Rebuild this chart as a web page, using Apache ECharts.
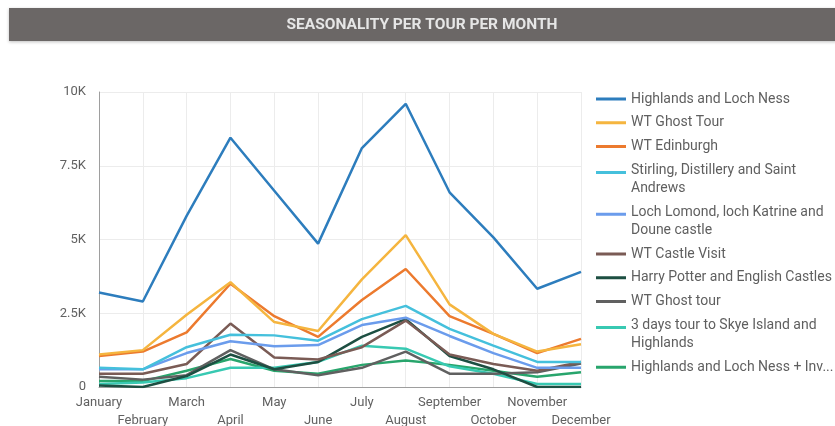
<!DOCTYPE html>
<html>
<head>
<meta charset="utf-8">
<script src="https://cdn.jsdelivr.net/npm/echarts@6/dist/echarts.min.js"></script>
<style>
  html, body { margin: 0; padding: 0; background: #ffffff; }
  #chart { width: 835px; height: 426px; }
</style>
</head>
<body>
<div id="chart"></div>
<script>
// Months on the category axis
const months = ['January', 'February', 'March', 'April', 'May', 'June',
  'July', 'August', 'September', 'October', 'November', 'December'];

// Bookings per tour per month
const highlandsLochNess = [3200, 2900, 5800, 8450, 6650, 4860, 8100, 9600, 6600, 5070, 3330, 3900];
const wtGhostTour = [1100, 1250, 2450, 3550, 2200, 1900, 3650, 5150, 2800, 1800, 1200, 1450];
const wtEdinburgh = [1050, 1200, 1850, 3500, 2400, 1700, 2950, 4000, 2400, 1800, 1150, 1630];
const stirlingDistillery = [650, 600, 1350, 1770, 1750, 1570, 2300, 2750, 1970, 1400, 850, 850];
const lochLomond = [600, 600, 1150, 1550, 1380, 1420, 2100, 2350, 1730, 1150, 650, 650];
const wtCastleVisit = [450, 450, 780, 2150, 1000, 930, 1350, 2250, 1100, 780, 550, 850];
const harryPotter = [50, 0, 370, 1100, 600, 850, 1700, 2300, 1050, 600, 0, 0];
const wtGhostTourLower = [350, 250, 400, 1250, 600, 400, 650, 1200, 450, 450, 500, 800];
const skyeHighlands = [100, 150, 300, 650, 650, 850, 1400, 1300, 700, 450, 100, 100];
const highlandsInv = [200, 200, 550, 950, 550, 450, 750, 900, 750, 550, 350, 500];

// Y-axis ticks
const yTicks = [0, 2500, 5000, 7500, 10000];

const seriesDefs = [
  { name: 'Highlands and Loch Ness', data: highlandsLochNess, color: '#2d7dbd', label: 'Highlands and Loch Ness' },
  { name: 'WT Ghost Tour', data: wtGhostTour, color: '#f5b53f', label: 'WT Ghost Tour' },
  { name: 'WT Edinburgh', data: wtEdinburgh, color: '#ec7a2e', label: 'WT Edinburgh' },
  { name: 'Stirling, Distillery and Saint Andrews', data: stirlingDistillery, color: '#45c0dc', label: 'Stirling, Distillery and Saint\nAndrews' },
  { name: 'Loch Lomond, loch Katrine and Doune castle', data: lochLomond, color: '#6b9cec', label: 'Loch Lomond, loch Katrine and\nDoune castle' },
  { name: 'WT Castle Visit', data: wtCastleVisit, color: '#7a5b55', label: 'WT Castle Visit' },
  { name: 'Harry Potter and English Castles', data: harryPotter, color: '#1d4f42', label: 'Harry Potter and English Castles' },
  { name: 'WT Ghost tour', data: wtGhostTourLower, color: '#606060', label: 'WT Ghost tour' },
  { name: '3 days tour to Skye Island and Highlands', data: skyeHighlands, color: '#38c9b2', label: '3 days tour to Skye Island and\nHighlands' },
  { name: 'Highlands and Loch Ness + Inv...', data: highlandsInv, color: '#28a56c', label: 'Highlands and Loch Ness + Inv...' }
];

// Legend line icons: bounding box 30x18, stroke near the first text line
const iconSingle = 'path://M0,0L0.01,0M30,18L29.99,18M0,7.5L30,7.5L30,10.5L0,10.5Z';
const iconDouble = 'path://M0,0L0.01,0M30,18L29.99,18M0,0.5L30,0.5L30,3.5L0,3.5Z';

const labelByName = {};
seriesDefs.forEach(s => { labelByName[s.name] = s.label; });

const chart = echarts.init(document.getElementById('chart'), null, { renderer: 'canvas' });

chart.setOption({
  animation: false,
  textStyle: { fontFamily: 'Roboto, sans-serif' },
  graphic: [
    {
      type: 'rect',
      shape: { x: 9, y: 8, width: 830, height: 33 },
      style: { fill: '#6b6766', shadowBlur: 3, shadowColor: 'rgba(0,0,0,0.25)', shadowOffsetY: 1 },
      z: 10
    },
    {
      type: 'text',
      x: 422, y: 25,
      style: {
        text: 'SEASONALITY PER TOUR PER MONTH',
        fill: '#e6e6e6',
        font: 'bold 15.5px Roboto, sans-serif',
        align: 'center',
        verticalAlign: 'middle'
      },
      z: 11
    }
  ],
  grid: { left: 99, right: 254, top: 92, bottom: 39, containLabel: false, outerBoundsMode: 'none' },
  legend: {
    orient: 'vertical',
    left: 591,
    top: 85,
    itemWidth: 30,
    itemHeight: 18,
    itemGap: 5.8,
    itemStyle: { borderWidth: 0 },
    data: seriesDefs.map(s => ({
      name: s.name,
      icon: s.label.indexOf('\n') >= 0 ? iconDouble : iconSingle
    })),
    formatter: name => labelByName[name],
    textStyle: { fontSize: 14, color: '#5f5f5f', lineHeight: 18, fontFamily: 'Roboto, sans-serif' }
  },
  xAxis: {
    type: 'category',
    data: months,
    boundaryGap: false,
    axisLine: { show: true, lineStyle: { color: '#9e9e9e', width: 1 } },
    axisTick: { show: false },
    splitLine: { show: true, lineStyle: { color: '#ececec', width: 1 } },
    axisLabel: {
      interval: 0,
      margin: 7,
      fontSize: 13,
      lineHeight: 18,
      color: '#616161',
      formatter: (v, i) => (i % 2 === 1 ? '\n' + v : v)
    }
  },
  yAxis: {
    type: 'value',
    min: yTicks[0],
    max: yTicks[yTicks.length - 1],
    interval: 2500,
    axisLine: { show: true, lineStyle: { color: '#9e9e9e', width: 1 } },
    axisTick: { show: false },
    splitLine: { show: true, lineStyle: { color: '#ececec', width: 1 } },
    axisLabel: {
      margin: 13,
      fontSize: 13,
      color: '#616161',
      formatter: v => (v === 0 ? '0' : (v / 1000) + 'K')
    }
  },
  series: seriesDefs.map((s, i) => ({
    name: s.name,
    type: 'line',
    data: s.data,
    showSymbol: false,
    symbol: 'none',
    color: s.color,
    lineStyle: { width: 2.5, color: s.color },
    z: 20 - i
  }))
});
</script>
</body>
</html>
